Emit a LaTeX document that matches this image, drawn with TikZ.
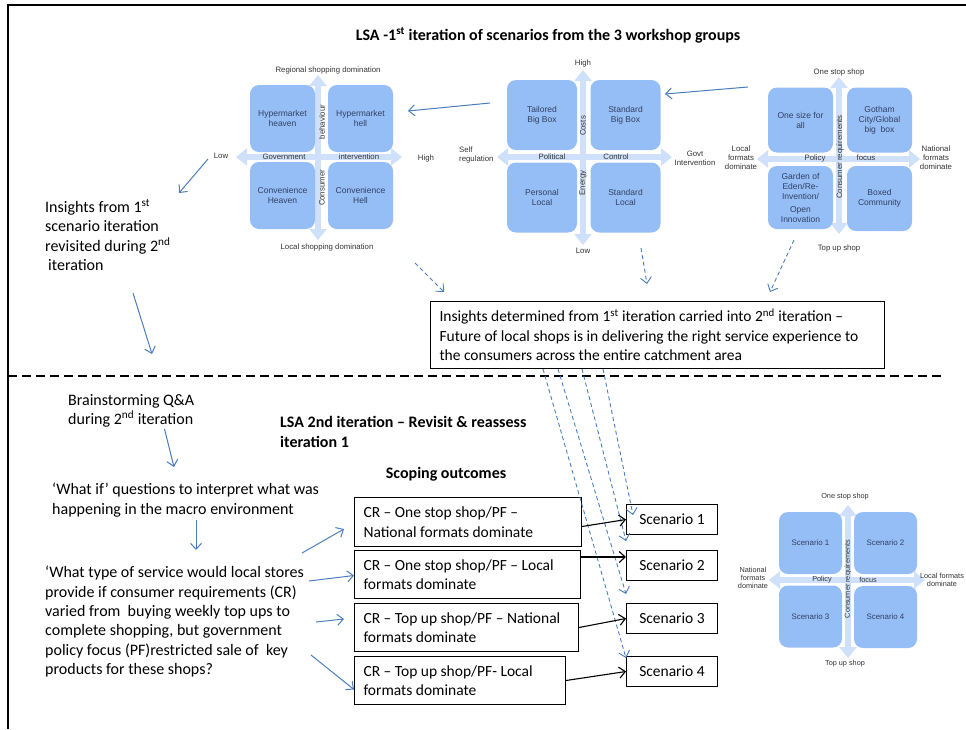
\documentclass[tikz,border=0pt]{standalone}
\usepackage{fontspec}
\setmainfont{Carlito}
\newfontfamily\chartfont{Liberation Sans}
\usetikzlibrary{arrows.meta,positioning,calc}

\definecolor{quadfill}{RGB}{149,190,246}
\definecolor{axisfill}{RGB}{206,224,250}
\definecolor{quadtext}{RGB}{50,64,100}
\definecolor{linkblue}{RGB}{74,126,187}

\tikzset{
  quad/.style={fill=quadfill, rounded corners=9pt, inner sep=1pt, align=center,
    minimum width=65pt, minimum height=67pt, text=quadtext,
    font=\chartfont\fontsize{8.5}{10}\selectfont},
  axis/.style={draw=axisfill, line width=6pt,
    {Triangle[length=11pt,width=17pt]}-{Triangle[length=11pt,width=17pt]}},
  axlbl/.style={inner sep=0pt, align=center, text=black!80,
    font=\chartfont\fontsize{7.8}{8.8}\selectfont},
  body/.style={inner sep=0pt, align=left, anchor=north west,
    font=\fontsize{16}{19.4}\selectfont},
  head/.style={inner sep=0pt, align=left, font=\bfseries\fontsize{16}{20}\selectfont},
  outcome/.style={draw, line width=1pt, anchor=north west, inner xsep=9pt, inner ysep=0pt,
    align=flush left, font=\fontsize{15.5}{19.4}\selectfont},
  scen/.style={draw, line width=1pt, anchor=north west, minimum width=91pt,
    minimum height=30pt, inner sep=0pt, font=\fontsize{15.5}{19.4}\selectfont},
  link/.style={draw=linkblue, line width=1pt, -{Straight Barb[length=6pt,width=11pt]}},
  dlink/.style={link, line width=0.9pt, dash pattern=on 4pt off 3pt},
  plink/.style={draw=black, line width=1.1pt, -{Straight Barb[length=6pt,width=11pt]}},
}

\begin{document}
\begin{tikzpicture}[x=1pt,y=-1pt]
    \useasboundingbox (0,0) rectangle (966,729);
    % Frame
    \draw[line width=2pt] (7.5,729) -- (7.5,5) -- (966,5);
    \draw[line width=2pt, dash pattern=on 9pt off 5pt] (8,376) -- (945,376);

    % Titles
    \node[head] (title) at (548,35) {LSA -1\textsuperscript{st} iteration of scenarios from the 3 workshop groups};
    \node[head, anchor=north west] (lsatwo) at (280,416) {LSA 2nd iteration -- Revisit \& reassess\\iteration 1};
    \node[head] (scoping) at (446,474) {Scoping outcomes};

    % Chart 1
    \draw[axis] (318,75) -- (318,240);
    \draw[axis] (236,157) -- (402,157);
    \node[quad] (hmheaven) at (282.5,118.5) {Hypermarket\\heaven};
    \node[quad] (hmhell) at (360.5,118.5) {Hypermarket\\hell};
    \node[quad] (cvheaven) at (282.5,195.5) {Convenience\\Heaven};
    \node[quad] (cvhell) at (360.5,195.5) {Convenience\\Hell};
    \node[axlbl] (regional) at (328,70) {Regional shopping domination};
    \node[axlbl] (localdom) at (327,247) {Local shopping domination};
    \node[axlbl] (lowone) at (221,156) {Low};
    \node[axlbl] (highone) at (426,158) {High};
    \node[axlbl] (govone) at (284,157) {Government};
    \node[axlbl] (intone) at (359,157) {intervention};
    \node[axlbl, rotate=90] (behone) at (322,122) {behaviour};
    \node[axlbl, rotate=90] (conone) at (322,188) {Consumer};

    % Chart 2
    \begin{scope}[quad/.append style={minimum width=70pt, minimum height=70pt}]
    \draw[axis] (583,70) -- (583,245);
    \draw[axis] (497,157) -- (672,157);
    \node[quad] (tailored) at (542,115) {Tailored\\Big Box};
    \node[quad] (stdbig) at (625.5,115) {Standard\\Big Box};
    \node[quad] (personal) at (542,197.5) {Personal\\Local};
    \node[quad] (stdlocal) at (625.5,197.5) {Standard\\Local};
    \node[axlbl] (hightwo) at (583,63) {High};
    \node[axlbl] (lowtwo) at (583,251) {Low};
    \node[axlbl, align=left, anchor=west] (selfreg) at (459,155) {Self\\regulation};
    \node[axlbl] (govint) at (695,158) {Govt\\Intervention};
    \node[axlbl] (political) at (552,157) {Political};
    \node[axlbl] (control) at (616,157) {Control};
    \node[axlbl, rotate=90] (costs) at (583,126) {Costs};
    \node[axlbl, rotate=90] (energy) at (583,183) {Energy};
    \end{scope}

    % Chart 3
    \begin{scope}[quad/.append style={minimum width=65pt, minimum height=65pt}]
    \draw[axis] (839,77) -- (839,234);
    \draw[axis] (757,159) -- (920,159);
    \node[quad] (onesize) at (800.5,120) {One size for\\all};
    \node[quad] (gotham) at (879.5,120) {Gotham\\City/Global\\big\ \ box};
    \node[quad, minimum height=63pt] (garden) at (800.5,197.5) {Garden of\\Eden/Re-\\Invention/\\[3pt]Open\\Innovation};
    \node[quad] (boxed) at (879.5,198.5) {Boxed\\Community};
    \node[axlbl] (onestopthree) at (839,72) {One stop shop};
    \node[axlbl] (topupthree) at (839,248) {Top up shop};
    \node[axlbl] (localthree) at (741,158) {Local\\formats\\dominate};
    \node[axlbl] (natthree) at (936,158) {National\\formats\\dominate};
    \node[axlbl] (policythree) at (815,158) {Policy};
    \node[axlbl] (focusthree) at (866,158) {focus};
    \node[axlbl, rotate=90] (consthree) at (840,157) {Consumer requirements};
    \end{scope}

    % Chart 4
    \begin{scope}[quad/.append style={minimum width=63pt, minimum height=62pt,
        font=\chartfont\fontsize{7.9}{9}\selectfont},
      axlbl/.append style={font=\chartfont\fontsize{7.3}{8.3}\selectfont}]
    \draw[axis] (848,505) -- (848,658);
    \draw[axis] (769,580) -- (925,580);
    \node[quad] (qone) at (810.5,543) {Scenario 1};
    \node[quad] (qtwo) at (885.5,543) {Scenario 2};
    \node[quad] (qthree) at (810.5,616.5) {Scenario 3};
    \node[quad] (qfour) at (885.5,617) {Scenario 4};
    \node[axlbl] (onestopfour) at (845,497) {One stop shop};
    \node[axlbl] (topupfour) at (845,664) {Top up shop};
    \node[axlbl] (natfour) at (753,578) {National\\formats\\dominate};
    \node[axlbl] (localfour) at (942,580) {Local formats\\dominate};
    \node[axlbl] (policyfour) at (822,580) {Policy};
    \node[axlbl] (focusfour) at (868,580) {focus};
    \node[axlbl, rotate=90] (consfour) at (848,579) {Consumer requirements};
    \end{scope}

    % Texts on the left
    \node[body] (insone) at (45,199) {Insights from 1\textsuperscript{st}\\scenario iteration\\revisited during 2\textsuperscript{nd}\\\hspace{3pt}iteration};
    \node[body] (brain) at (68,394) {Brainstorming Q\&A\\during 2\textsuperscript{nd} iteration};
    \node[body] (whatif) at (52,483) {‘What if’ questions to interpret what was\\happening in the macro environment};
    \node[body] (whattype) at (45,566) {‘What type of service would local stores\\provide if consumer requirements (CR)\\varied from\ \ buying weekly top ups to\\complete shopping, but government\\policy focus (PF)restricted sale of\ \ key\\products for these shops?};

    % Boxes
    \node[outcome, text width=436pt, minimum height=67pt] (carried) at (430,301)
      {\mbox{Insights determined from 1\textsuperscript{st} iteration carried into 2\textsuperscript{nd} iteration --}\\\mbox{Future of local shops is in delivering the right service experience to}\\\mbox{the consumers across the entire catchment area}};
    \node[outcome, text width=209pt, minimum height=49pt] (crone) at (354,497) {\mbox{CR -- One stop shop/PF --}\\\mbox{National formats dominate}};
    \node[outcome, text width=208pt, minimum height=48pt] (crtwo) at (354,550) {\mbox{CR -- One stop shop/PF -- Local}\\\mbox{formats dominate}};
    \node[outcome, text width=206pt, minimum height=48pt] (crthree) at (354,603) {\mbox{CR -- Top up shop/PF -- National}\\\mbox{formats dominate}};
    \node[outcome, text width=193pt, minimum height=48pt] (crfour) at (354,656) {\mbox{CR -- Top up shop/PF- Local}\\\mbox{formats dominate}};
    \node[scen] (scenone) at (626,504) {Scenario 1};
    \node[scen] (scentwo) at (626,550) {Scenario 2};
    \node[scen] (scenthree) at (626,603) {Scenario 3};
    \node[scen] (scenfour) at (626,656) {Scenario 4};

    % Solid arrows
    \coordinate (twoout) at (490,103);
    \coordinate (onein) at (408,111);
    \coordinate (threeout) at (748,87);
    \coordinate (twoin) at (665,94);
    \coordinate (lowout) at (208,159);
    \coordinate (insin) at (179,193);
    \coordinate (insout) at (133,293);
    \coordinate (sepin) at (152,354);
    \coordinate (brainout) at (164.5,429);
    \coordinate (whatifin) at (174,467);
    \coordinate (whatifout) at (196,520);
    \coordinate (whattypein) at (196,550);
    \coordinate (toone) at (302,553);
    \coordinate (totwo) at (309,581);
    \coordinate (tothree) at (316,622);
    \coordinate (tofour) at (311,655);
    \draw[link] (twoout) -- (onein);
    \draw[link] (threeout) -- (twoin);
    \draw[link] (lowout) -- (insin);
    \draw[link] (insout) -- (sepin);
    \draw[link] (brainout) -- (whatifin);
    \draw[link] (whatifout) -- (whattypein);
    \draw[link] (toone) -- (344,529);
    \draw[link] (totwo) -- ([yshift=-1pt]crtwo.west);
    \draw[link] (tothree) -- (344,619);
    \draw[link] (tofour) -- ([yshift=-9pt]crfour.west);

    % Dashed arrows
    \coordinate (oneout) at (415,263);
    \coordinate (midout) at (641,248);
    \coordinate (rightout) at (794,240);
    \draw[dlink] (oneout) -- (444,292);
    \draw[dlink] (midout) -- (647,284);
    \draw[dlink] (rightout) -- (770,292);
    \draw[dlink] ([xshift=173pt]carried.south west) -- ([shift={(7pt,-11pt)}]scenone.north west);
    \draw[dlink] ([xshift=152pt]carried.south west) -- ([yshift=-6pt]scenone.south west);
    \draw[dlink] ([xshift=128pt]carried.south west) -- ([yshift=-13pt]scentwo.south west);
    \draw[dlink] ([xshift=113pt]carried.south west) -- ([yshift=-2pt]scenfour.north west);

    % Outcome to scenario
    \draw[plink] ([yshift=-7pt]crone.north east |- scenone.west) -- (scenone.west);
    \draw[plink] ([yshift=-7pt]crtwo.north east) -- ([yshift=-7pt]scentwo.north west);
    \draw[plink] (crthree.east) -- (scenthree.west);
    \draw[plink] (crfour.east) -- (scenfour.west);
\end{tikzpicture}
\end{document}
